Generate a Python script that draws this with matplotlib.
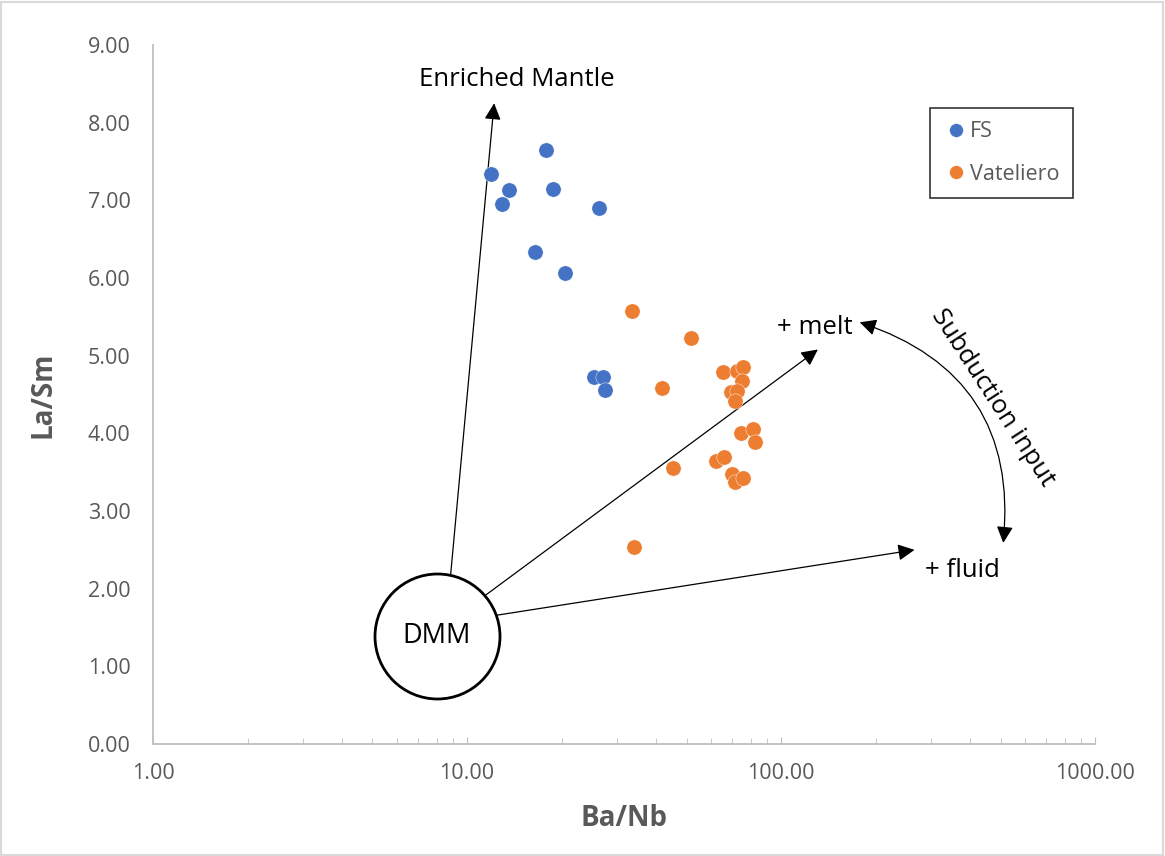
import matplotlib.pyplot as plt
import numpy as np
from matplotlib.patches import Rectangle
from matplotlib.ticker import FixedLocator, LogLocator, NullFormatter

plt.rcParams['font.family'] = ['Open Sans', 'DejaVu Sans']

# Data
fs_ba_nb = [11.9, 17.9, 13.6, 12.9, 18.8, 26.3, 16.5, 20.5, 25.4, 27.1, 27.5]
fs_la_sm = [7.34, 7.65, 7.13, 6.95, 7.14, 6.90, 6.34, 6.06, 4.73, 4.72, 4.56]

vat_ba_nb = [33.5, 51.6, 41.8, 65.3, 72.3, 75.7, 75.1, 69.2, 72.5, 71.3,
             74.8, 81.4, 82.4, 45.3, 62.2, 65.9, 70.0, 71.2, 75.7, 33.9]
vat_la_sm = [5.58, 5.23, 4.58, 4.79, 4.80, 4.86, 4.68, 4.53, 4.55, 4.42,
             4.00, 4.06, 3.89, 3.56, 3.64, 3.70, 3.48, 3.37, 3.43, 2.54]

# Annotation geometry (data coordinates)
dmm = (8.0, 1.39)
enriched = ((8.85, 2.14), (12.2, 8.25))
melt = ((11.4, 1.91), (131.0, 5.08))
fluid = ((12.5, 1.66), (266.0, 2.50))
subduction = ((178.0, 5.43), (510.0, 2.59))

grey = '#595959'
blue = '#4472C4'
orange = '#ED7D31'

fig = plt.figure(figsize=(11.65, 8.56), dpi=100)
ax = fig.add_axes([0.1313, 0.1308, 0.8087, 0.8166])
fig.patches.append(Rectangle((0.001, 0.001), 0.997, 0.997, transform=fig.transFigure,
                             fill=False, edgecolor='#D9D9D9', linewidth=1.5))

ax.plot(fs_ba_nb, fs_la_sm, 'o', color=blue, ms=11, mec='white', mew=0.3,
        label='FS', zorder=3)
ax.plot(vat_ba_nb, vat_la_sm, 'o', color=orange, ms=11, mec='white', mew=0.3,
        label='Vateliero', zorder=3)

ax.set_xscale('log')
ax.set_xlim(1, 1000)
ax.set_ylim(0, 9)
ax.xaxis.set_major_locator(FixedLocator([1, 10, 100, 1000]))
ax.xaxis.set_minor_locator(LogLocator(base=10, subs=np.arange(2, 10)))
ax.xaxis.set_minor_formatter(NullFormatter())
ax.set_xticklabels(['1.00', '10.00', '100.00', '1000.00'])
ax.set_yticks(np.arange(0, 10))
ax.set_yticklabels([f'{v:.2f}' for v in range(10)])

for s in ['top', 'right']:
    ax.spines[s].set_visible(False)
for s in ['left', 'bottom']:
    ax.spines[s].set_color('#BFBFBF')
    ax.spines[s].set_linewidth(1.3)
ax.tick_params(axis='x', which='both', direction='in', color='#BFBFBF',
               labelcolor=grey, labelsize=15.5, pad=14)
ax.tick_params(axis='x', which='major', length=5)
ax.tick_params(axis='x', which='minor', length=4)
ax.tick_params(axis='y', length=0, labelcolor=grey, labelsize=15.5, pad=16)

ax.set_xlabel('Ba/Nb', fontsize=20, fontweight='bold', color=grey, labelpad=14)
ax.set_ylabel('La/Sm', fontsize=20, fontweight='bold', color=grey, labelpad=22)

# DMM circle
ax.plot(*dmm, 'o', ms=90, mfc='white', mec='black', mew=2, zorder=4)
ax.text(*dmm, 'DMM', fontsize=19.5, ha='center', va='center', zorder=5)

arrow = dict(arrowstyle='-|>,head_length=1.0,head_width=0.5', color='black',
             lw=0.9, shrinkA=0, shrinkB=0, mutation_scale=10)
for start, end in [enriched, melt, fluid]:
    ax.annotate('', xy=end, xytext=start, arrowprops=arrow, zorder=2)

ax.annotate('', xy=subduction[1], xytext=subduction[0],
            arrowprops=dict(arrow, arrowstyle='<|-|>,head_length=1.0,head_width=0.5',
                            connectionstyle='arc3,rad=-0.4'))

ax.text(14.4, 8.56, 'Enriched Mantle', fontsize=18.5, ha='center', va='center')
ax.text(128, 5.36, '+ melt', fontsize=18.5, ha='center', va='center')
ax.text(378, 2.23, '+ fluid', fontsize=18.5, ha='center', va='center')
ax.text(472, 4.46, 'Subduction input', fontsize=18.5, ha='center', va='center',
        rotation=-57)

leg = ax.legend(loc='upper right', bbox_to_anchor=(0.9875, 0.925), fontsize=15.5,
                frameon=True, fancybox=False, edgecolor='black', handletextpad=0.05,
                labelspacing=1.0, borderpad=0.6, handlelength=1.2, markerscale=0.9)
leg.get_frame().set_linewidth(1.2)
for t in leg.get_texts():
    t.set_color(grey)

fig.savefig('out.png', dpi=100)
